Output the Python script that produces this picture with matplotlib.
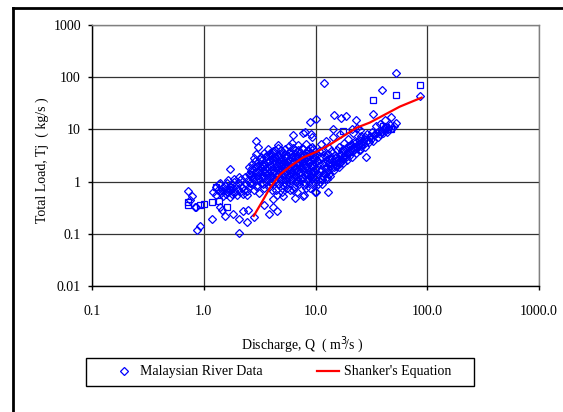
import matplotlib
matplotlib.use("Agg")
import matplotlib.pyplot as plt
from matplotlib.lines import Line2D
from matplotlib.patches import Rectangle

# ---------------- data ----------------
# Malaysian river data (diamonds)
q_diamond = [
    0.73, 0.78, 0.75, 0.85, 0.83, 0.87, 0.92, 1.18, 1.39, 1.45, 1.54, 1.82, 2.23, 2.48, 2.06, 2.42, 2.06, 2.8,
    3.45, 3.8, 4.15, 4.5, 4.15, 4.5, 5.0, 5.5, 6.5, 6.8, 7.9, 10.0, 5.9, 5.1, 6.9, 8.9, 1.39, 1.71, 2.42,
    6.25, 8.3, 11.4, 9.8, 7.7, 12.9, 5.0, 4.06, 4.6,
    1.71, 1.86, 2.53, 2.92, 3.05, 6.25, 7.7, 4.6, 8.9, 10.2, 8.0, 9.4, 9.2,
    11.9, 53, 39, 87, 14.5, 17, 18.8, 22.9, 33, 41.7, 47, 14.3, 21, 25, 28.5,
    # cluster Q 1.2 - 2.6
    1.22, 1.28, 1.30, 1.35, 1.38, 1.42, 1.45, 1.48, 1.50, 1.55, 1.58, 1.60, 1.63, 1.66, 1.70, 1.72, 1.75, 1.78,
    1.80, 1.84, 1.88, 1.90, 1.95, 2.00, 2.02, 2.08, 2.12, 2.15, 2.20, 2.25, 2.30, 2.35, 2.40, 2.45, 2.50, 2.55,
    2.60, 1.40, 1.65, 2.05,
    # core Q 2.6 - 5
    2.65, 2.7, 2.72, 2.75, 2.8, 2.82, 2.85, 2.9, 2.92, 2.95, 3.0, 3.02, 3.05, 3.1, 3.12, 3.15, 3.2, 3.22, 3.25,
    3.3, 3.32, 3.35, 3.4, 3.45, 3.48, 3.5, 3.55, 3.6, 3.62, 3.65, 3.7, 3.75, 3.78, 3.8, 3.85, 3.9, 3.92, 3.95,
    4.0, 4.05, 4.1, 4.12, 4.15, 4.2, 4.25, 4.3, 4.35, 4.4, 4.45, 4.5, 4.55, 4.6, 4.65, 4.7, 4.75, 4.8, 4.85,
    4.9, 4.95, 5.0,
    2.55, 2.6, 2.68, 2.78, 2.88, 2.98, 3.08, 3.18, 3.28, 3.38, 3.42, 3.52, 3.58, 3.68, 3.72, 3.82, 3.88, 3.98,
    4.02, 4.08, 4.18, 4.22, 4.28, 4.38, 4.42, 4.48, 4.58, 4.62, 4.72, 4.78, 4.88, 4.92, 2.7, 3.0, 3.3, 3.6,
    3.9, 4.2, 4.5, 4.8,
    # core Q 5 - 10
    5.05, 5.1, 5.15, 5.2, 5.25, 5.3, 5.35, 5.4, 5.45, 5.5, 5.55, 5.6, 5.65, 5.7, 5.75, 5.8, 5.85, 5.9, 5.95,
    6.0, 6.1, 6.15, 6.2, 6.25, 6.3, 6.4, 6.45, 6.5, 6.55, 6.6, 6.7, 6.75, 6.8, 6.9, 6.95, 7.0, 7.1, 7.15, 7.2,
    7.3, 7.4, 7.5, 7.55, 7.6, 7.7, 7.8, 7.9, 8.0, 8.1, 8.2, 8.3, 8.4, 8.5, 8.6, 8.7, 8.8, 8.9, 9.0, 9.1, 9.2,
    9.3, 9.4, 9.5, 9.6, 9.7, 9.8, 9.9,
    5.08, 5.18, 5.28, 5.38, 5.48, 5.58, 5.68, 5.78, 5.88, 5.98, 6.05, 6.18, 6.28, 6.38, 6.48, 6.58, 6.68, 6.78,
    6.88, 6.98, 7.08, 7.18, 7.28, 7.38, 7.48, 7.58, 7.68, 7.78, 7.88, 7.98, 8.08, 8.18, 8.28, 8.38, 8.48, 8.58,
    8.68, 8.78, 8.88, 8.98, 9.08, 9.18, 9.28, 9.38, 9.48, 9.58, 9.68, 9.78, 9.88, 5.5, 6.0, 6.5, 7.0, 7.5,
    8.0, 8.5, 9.0, 9.5,
    # Q 10 - 20
    10.2, 10.4, 10.6, 10.8, 11.0, 11.2, 11.4, 11.6, 11.8, 12.0, 12.2, 12.4, 12.6, 12.8, 13.0, 13.2, 13.4, 13.6,
    13.8, 14.0, 14.3, 14.6, 14.9, 15.2, 15.5, 15.8, 16.1, 16.4, 16.7, 17.0, 17.3, 17.6, 18.0, 18.4, 18.8, 19.2,
    19.6, 20.0,
    10.1, 10.3, 10.5, 10.7, 10.9, 11.1, 11.3, 11.5, 11.7, 11.9, 12.1, 12.3, 12.5, 12.7, 12.9, 13.1, 13.3, 13.5,
    13.7, 13.9, 14.2, 14.5, 14.8, 15.0, 15.4, 15.7, 16.0, 16.3, 16.6, 16.9, 17.2, 17.5, 17.8, 18.2, 18.6, 19.0,
    19.4, 19.8,
    # Q 20 - 55
    20.5, 21, 21.5, 22, 22.5, 23, 23.5, 24, 24.5, 25, 25.5, 26, 27, 27.5, 29, 30, 31, 32, 33, 34, 35, 36, 37,
    38, 40, 42, 44, 46, 48, 50, 53,
    20.2, 20.8, 21.3, 21.8, 22.3, 22.8, 23.3, 23.8, 24.3, 24.8, 25.3, 25.8, 26.5, 27.2, 28, 29.5, 30.5, 31.5,
    33.5, 35.5, 37.5, 39, 41, 43, 45,
]
t_diamond = [
    0.67, 0.52, 0.45, 0.32, 0.33, 0.12, 0.14, 0.19, 0.32, 0.29, 0.22, 0.24, 0.27, 0.29, 0.19, 0.165, 0.105, 0.21,
    0.36, 0.24, 0.32, 0.27, 0.47, 0.56, 0.77, 0.88, 0.49, 0.64, 0.56, 0.62, 0.70, 0.54, 1.09, 1.25, 0.67, 0.70, 0.56,
    0.70, 0.77, 0.88, 0.62, 0.54, 0.64, 0.64, 0.70, 0.88,
    1.78, 1.14, 1.94, 6.1, 4.7, 7.9, 8.7, 5.1, 14, 16, 9.1, 7.3, 8.3,
    79, 122, 58, 44, 19.2, 16.8, 18.3, 15.4, 20, 15.4, 17.6, 10.4, 10.4, 9.9, 3.0,
    # cluster Q 1.2 - 2.6
    0.62, 0.78, 0.55, 0.70, 0.88, 0.60, 0.75, 0.52, 0.66, 0.82, 0.58, 0.72, 0.95, 0.62, 0.80, 0.50, 0.68, 0.90,
    0.58, 0.75, 1.00, 0.64, 0.85, 0.55, 0.72, 0.95, 0.62, 1.10, 0.80, 0.58, 0.70, 1.20, 0.90, 0.66, 1.05, 0.78,
    1.35, 0.95, 1.05, 1.25,
    # core Q 2.6 - 5
    1.6, 2.2, 0.9, 1.2, 2.8, 0.7, 1.5, 1.9, 1.05, 3.4, 1.3, 0.85, 2.4, 1.7, 0.6, 1.1, 2.0, 3.0, 1.4,
    0.95, 2.6, 1.8, 1.2, 3.6, 0.75, 1.55, 2.2, 1.0, 2.9, 1.35, 1.9, 4.2, 1.15, 2.5, 0.8, 1.6, 3.2, 2.1,
    1.25, 2.7, 1.75, 0.95, 3.8, 1.45, 2.3, 1.05, 3.0, 1.9, 0.7, 2.6, 1.3, 4.5, 1.65, 2.2, 0.9, 3.4, 1.5,
    2.0, 1.1, 2.8,
    1.4, 0.95, 1.8, 1.1, 2.5, 0.8, 1.55, 2.7, 1.25, 2.05, 0.9, 1.75, 3.1, 1.1, 2.4, 1.45, 3.6, 0.95,
    2.0, 3.3, 1.2, 2.6, 1.6, 4.0, 1.0, 2.1, 1.4, 3.0, 1.85, 1.2, 2.5, 4.1, 1.35, 2.0, 1.6, 2.5,
    1.3, 3.5, 1.8, 2.9,
    # core Q 5 - 10
    1.7, 3.6, 0.85, 2.4, 1.3, 4.3, 1.9, 1.05, 2.9, 1.55, 0.75, 3.3, 2.1, 1.2, 4.9, 1.7, 2.6, 0.95, 3.8,
    1.4, 2.2, 5.6, 1.1, 3.0, 1.8, 0.8, 2.5, 4.1, 1.35, 2.0, 3.4, 1.0, 1.6, 2.8, 5.0, 1.25, 2.3, 0.9, 3.7,
    1.5, 2.0, 4.5, 1.15, 2.6, 1.7, 3.2, 0.85, 2.2, 1.35, 5.3, 1.9, 2.9, 1.05, 4.0, 1.6, 2.4, 0.75, 3.5, 1.3, 2.0,
    4.7, 1.1, 2.7, 1.5, 3.2, 0.95, 2.3,
    2.2, 1.1, 3.0, 1.6, 0.9, 2.4, 1.4, 3.6, 1.9, 1.05, 2.9, 1.55, 4.4, 2.0, 1.2, 3.0, 1.75, 0.95,
    2.3, 4.0, 1.45, 2.7, 1.1, 3.3, 1.8, 2.4, 1.2, 4.2, 1.6, 2.9, 0.95, 2.0, 3.6, 1.4, 2.5, 1.15,
    3.1, 1.8, 4.5, 1.3, 2.6, 1.55, 3.4, 0.9, 2.0, 4.2, 1.2, 2.8, 1.75, 2.0, 3.4, 1.5, 2.1, 3.0,
    1.8, 3.9, 2.4, 1.6,
    # Q 10 - 20
    1.2, 2.6, 0.9, 3.8, 1.6, 5.2, 1.1, 2.2, 1.4, 3.2, 1.8, 6.0, 1.25, 2.5, 1.6, 4.4, 2.0, 1.3,
    3.0, 2.2, 7.0, 1.7, 2.8, 2.0, 4.0, 2.4, 1.9, 3.3, 8.0, 2.7, 3.8, 2.3, 5.5, 3.1, 4.3, 2.6,
    6.5, 3.6,
    1.8, 3.3, 1.4, 2.3, 1.0, 2.9, 1.7, 3.8, 1.3, 2.4, 1.5, 2.9, 1.9, 1.1, 3.4, 2.3, 1.4, 2.7,
    1.8, 3.8, 2.5, 1.9, 3.3, 2.2, 3.0, 2.0, 2.7, 4.6, 2.3, 3.3, 2.6, 4.2, 3.0, 3.7, 2.9, 3.5,
    4.8, 3.1,
    # Q 20 - 55
    4.8, 3.0, 8.5, 4.2, 5.5, 3.6, 10.5, 4.8, 6.3, 4.0, 7.5, 5.3, 6.5, 4.6, 8.2, 5.8, 7.0, 9.0, 6.0, 8.0, 11.5,
    7.2, 9.5, 12.5, 8.5, 10.2, 9.0, 12.0, 10.8, 11.5, 13.5,
    3.8, 4.2, 5.0, 3.8, 4.6, 6.0, 4.4, 5.2, 4.0, 5.6, 6.8, 4.8, 6.0, 5.3, 7.0, 6.4, 7.5, 6.5,
    7.8, 8.6, 8.2, 9.5, 9.8, 11.0, 10.0,
]

# Malaysian river data (squares)
q_square = [0.72, 0.72, 0.92, 1.0, 1.18, 1.36, 1.60, 1.28, 87, 53, 32.7, 40, 43, 47, 17.6]
t_square = [0.41, 0.35, 0.36, 0.38, 0.41, 0.43, 0.33, 0.80, 72, 46, 36, 11.8, 11.3, 10.4, 9.5]

# Shanker's equation
q_shanker = [2.8, 3.3, 3.9, 4.8, 5.9, 7.7, 10.3, 13.4, 17.5, 23.4, 30.6, 56.8, 89]
t_shanker = [0.22, 0.40, 0.75, 1.36, 1.94, 2.88, 3.76, 5.1, 7.3, 10.8, 13.5, 27.3, 40.6]

x_ticks = [0.1, 1, 10, 100, 1000]
x_tick_labels = ["0.1", "1.0", "10.0", "100.0", "1000.0"]
y_ticks = [0.01, 0.1, 1, 10, 100, 1000]
y_tick_labels = ["0.01", "0.1", "1", "10", "100", "1000"]

# ---------------- plot ----------------
plt.rcParams['font.family'] = ['Liberation Serif', 'DejaVu Serif']
W, H = 563, 412
fig = plt.figure(figsize=(W / 100, H / 100), dpi=100)
ax = fig.add_axes([92 / W, 1 - 286 / H, (539 - 92) / W, (286 - 25) / H])

blue = '#0000FF'
ax.plot(q_diamond, t_diamond, linestyle='none', marker='D', markersize=3.6,
        markerfacecolor='none', markeredgecolor=blue, markeredgewidth=0.9)
ax.plot(q_square, t_square, linestyle='none', marker='s', markersize=3.8,
        markerfacecolor='none', markeredgecolor=blue, markeredgewidth=0.9)
ax.plot(q_shanker, t_shanker, color='#FF0000', linewidth=1.6)

ax.set_xscale('log')
ax.set_yscale('log')
ax.set_xlim(0.1, 1000)
ax.set_ylim(0.01, 1000)
ax.set_xticks(x_ticks)
ax.set_xticklabels(x_tick_labels)
ax.set_yticks(y_ticks)
ax.set_yticklabels(y_tick_labels)
ax.minorticks_off()
ax.tick_params(axis='x', direction='out', length=3, width=1, pad=11, labelsize=10, colors='black')
ax.tick_params(axis='y', direction='out', length=3, width=1, pad=5, labelsize=10, colors='black')
ax.grid(True, which='major', color='#333333', linewidth=0.9)
ax.set_axisbelow(True)
for s in ['left', 'bottom']:
    ax.spines[s].set_color('black')
    ax.spines[s].set_linewidth(1.0)
for s in ['top', 'right']:
    ax.spines[s].set_color('#808080')
    ax.spines[s].set_linewidth(1.0)

fig.text(302 / W, 1 - 345 / H, r"Discharge, Q  ( m$^3\!$/s )", ha='center', va='center', fontsize=10)
fig.text(42 / W, 1 - 160 / H, "Total Load, Tj  ( kg/s )", ha='center', va='center', rotation=90, fontsize=10)

handles = [
    Line2D([], [], linestyle='none', marker='D', markersize=3.6, markerfacecolor='none',
           markeredgecolor=blue, markeredgewidth=0.9, label='Malaysian River Data'),
    Line2D([], [], color='#FF0000', linewidth=1.6, label="Shanker's Equation"),
]
leg = fig.legend(handles=handles, loc='center', ncol=2,
                 bbox_to_anchor=(282 / W, 1 - 372 / H),
                 fontsize=10, frameon=False, handlelength=1.6, columnspacing=3.9,
                 borderaxespad=0, borderpad=0, handletextpad=0.35, numpoints=1)
fig.add_artist(Rectangle((86 / W, 1 - 386 / H), (474 - 86) / W, (386 - 358) / H,
                         transform=fig.transFigure, fill=False, edgecolor='black', linewidth=1.0))

# outer frame (top and left edges)
fig.add_artist(Line2D([13 / W, 13 / W], [0, 1 - 8 / H], transform=fig.transFigure, color='black', linewidth=2))
fig.add_artist(Line2D([13 / W, 1], [1 - 8 / H, 1 - 8 / H], transform=fig.transFigure, color='black', linewidth=2))

fig.savefig('out.png', dpi=100)
